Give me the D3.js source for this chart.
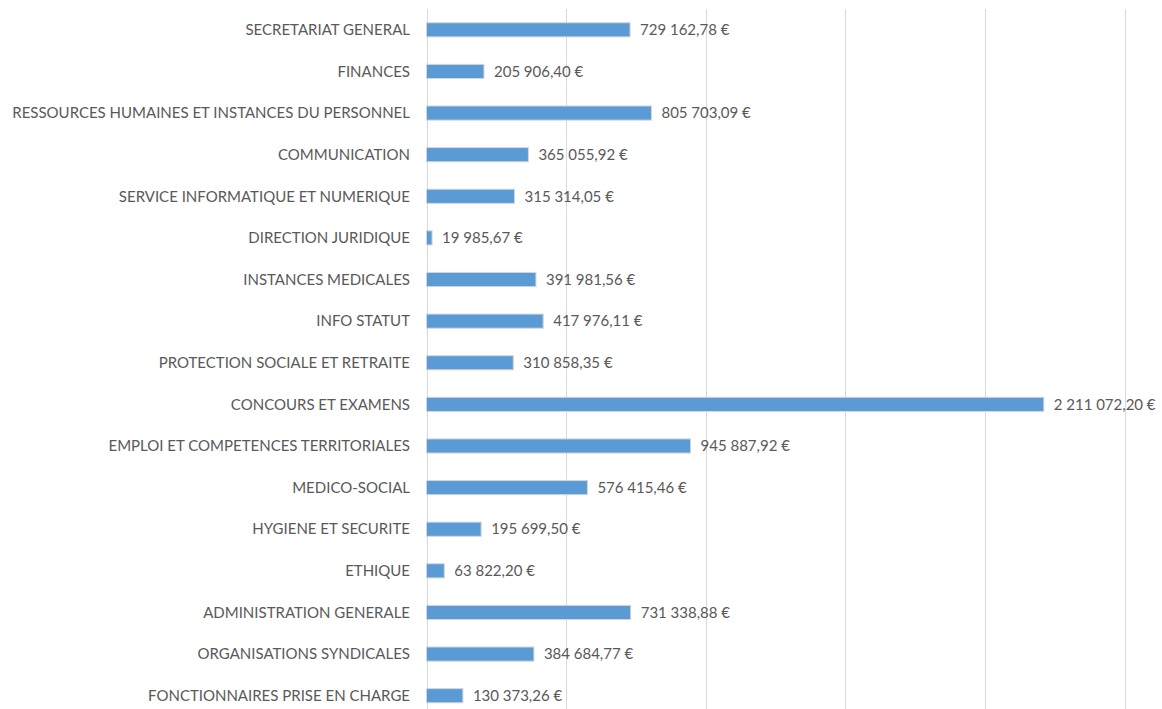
<!DOCTYPE html>
<html>
<head>
<meta charset="utf-8">
<script src="https://cdn.jsdelivr.net/npm/d3@7"></script>
<style>
  body { margin: 0; background: #fff; }
  .lbl { font-family: Lato, "Open Sans", sans-serif; font-size: 15px; fill: #595959; }
  .gridLines { stroke: #d9d9d9; stroke-width: 1; }
</style>
</head>
<body>
<script>
(function(){

    //chart data
    var categories = [
        "SECRETARIAT GENERAL",
        "FINANCES",
        "RESSOURCES HUMAINES ET INSTANCES DU PERSONNEL",
        "COMMUNICATION",
        "SERVICE INFORMATIQUE ET NUMERIQUE",
        "DIRECTION JURIDIQUE",
        "INSTANCES MEDICALES",
        "INFO STATUT",
        "PROTECTION SOCIALE ET RETRAITE",
        "CONCOURS ET EXAMENS",
        "EMPLOI ET COMPETENCES TERRITORIALES",
        "MEDICO-SOCIAL",
        "HYGIENE ET SECURITE",
        "ETHIQUE",
        "ADMINISTRATION GENERALE",
        "ORGANISATIONS SYNDICALES",
        "FONCTIONNAIRES PRISE EN CHARGE"
    ];
    var amounts = [729162.78, 205906.40, 805703.09, 365055.92, 315314.05, 19985.67,
        391981.56, 417976.11, 310858.35, 2211072.20, 945887.92, 576415.46,
        195699.50, 63822.20, 731338.88, 384684.77, 130373.26];
    var gridTicks = [0, 500000, 1000000, 1500000, 2000000, 2500000];

    window.onload = setChart();

    function setChart(){
        var width = 1162,
            height = 709;

        var svg = d3.select("body")
            .append("svg")
            .attr("width", width)
            .attr("height", height);

        var x = d3.scaleLinear()
            .domain([0, 2500000])
            .range([426.5, 1124.5]);

        var y = d3.scaleBand()
            .domain(categories)
            .range([9, 716.5])
            .paddingInner(0.66)
            .paddingOuter(0.33);

        //vertical gridlines
        svg.selectAll(".gridLines")
            .data(gridTicks)
            .enter()
            .append("line")
            .attr("class", "gridLines")
            .attr("x1", function(d){ return Math.round(x(d)) + 0.5; })
            .attr("x2", function(d){ return Math.round(x(d)) + 0.5; })
            .attr("y1", 9)
            .attr("y2", height);

        //bars
        svg.selectAll(".bar")
            .data(amounts)
            .enter()
            .append("rect")
            .attr("class", "bar")
            .attr("x", x(0))
            .attr("y", function(d, i){ return y(categories[i]); })
            .attr("width", function(d){ return x(d) - x(0); })
            .attr("height", y.bandwidth())
            .style("fill", "#5b9bd5")
            .style("stroke", "#d6d6d6")
            .style("stroke-width", 1);

        //category labels
        svg.selectAll(".catLabel")
            .data(categories)
            .enter()
            .append("text")
            .attr("class", "lbl catLabel")
            .attr("x", 410)
            .attr("y", function(d){ return y(d) + y.bandwidth() / 2; })
            .attr("dy", "0.35em")
            .attr("text-anchor", "end")
            .text(function(d){ return d; });

        //value labels, french format
        var fr = d3.formatLocale({
            decimal: ",",
            thousands: "\u202f",
            grouping: [3],
            currency: ["", "\u00a0€"]
        });
        var fmt = fr.format("$,.2f");

        svg.selectAll(".valLabel")
            .data(amounts)
            .enter()
            .append("text")
            .attr("class", "lbl valLabel")
            .attr("x", function(d){ return x(d) + 10; })
            .attr("y", function(d, i){ return y(categories[i]) + y.bandwidth() / 2; })
            .attr("dy", "0.35em")
            .text(function(d){ return fmt(d); });
    };

})();
</script>
</body>
</html>
